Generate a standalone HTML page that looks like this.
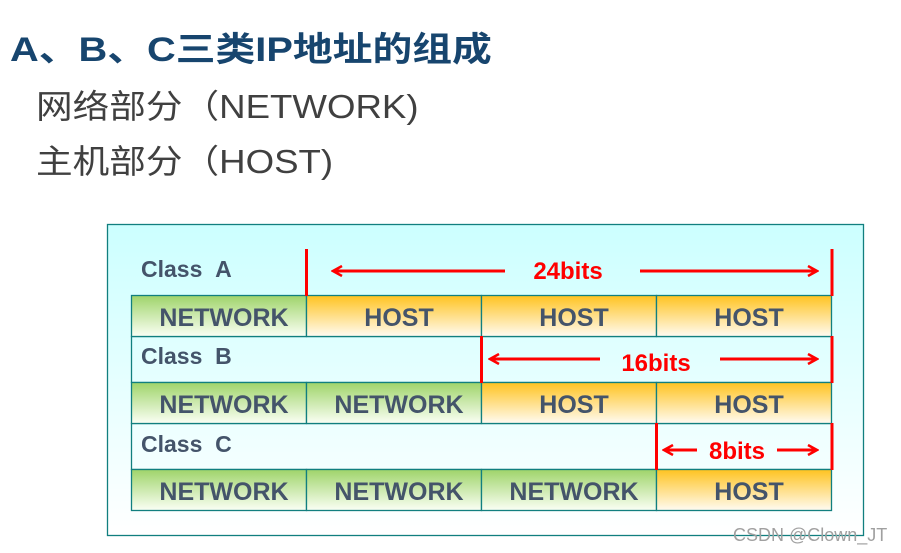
<!DOCTYPE html>
<html><head><meta charset="utf-8"><style>
html,body{margin:0;padding:0;background:#fff;width:901px;height:553px;overflow:hidden;position:relative}
.t{position:absolute;white-space:nowrap;font-family:"Liberation Sans","Noto Sans CJK SC",sans-serif;transform-origin:0 0}
</style></head><body>
<div class="t" style="left:10px;top:22px;font-size:34px;font-weight:bold;color:#17456e;transform:scaleX(1.17);">A、B、C三类IP地址的组成</div>
<div class="t" style="left:36px;top:80px;font-size:33px;color:#404040;transform:scaleX(1.11);">网络部分（NETWORK)</div>
<div class="t" style="left:36px;top:135px;font-size:33px;color:#404040;transform:scaleX(1.11);">主机部分（HOST)</div>
<svg width="901" height="553" style="position:absolute;left:0;top:0" xmlns="http://www.w3.org/2000/svg">
<defs>
<linearGradient id="bg" x1="0" y1="0" x2="0" y2="1"><stop offset="0" stop-color="#ccffff"/><stop offset="1" stop-color="#ffffff"/></linearGradient>
<linearGradient id="gn" x1="0" y1="0" x2="0" y2="1"><stop offset="0" stop-color="#9fd46a"/><stop offset="1" stop-color="#fbfff5"/></linearGradient>
<linearGradient id="or" x1="0" y1="0" x2="0" y2="1"><stop offset="0" stop-color="#ffc320"/><stop offset="1" stop-color="#fffbf2"/></linearGradient>
<marker id="ah" markerWidth="12" markerHeight="12" refX="10" refY="6" orient="auto" markerUnits="userSpaceOnUse"><path d="M1,1 L10,6 L1,11" fill="none" stroke="#ff0000" stroke-width="2.5"/></marker>
</defs>
<rect x="107.5" y="224.5" width="756" height="311" fill="url(#bg)" stroke="#117f7f" stroke-width="1.3"/>
<g stroke="#117f7f" stroke-width="1.3" fill="none">
<rect x="131.5" y="336.5" width="700" height="46"/>
<rect x="131.5" y="423.5" width="700" height="46"/>
</g>
<line x1="481.5" y1="336" x2="481.5" y2="382" stroke="#117f7f"/>
<line x1="656.5" y1="423" x2="656.5" y2="469" stroke="#117f7f"/>
<g font-family="Liberation Sans,sans-serif" font-weight="bold" font-size="23" fill="#44546a">
<text x="141" y="277">Class&#160;&#160;A</text>
<text x="141" y="364">Class&#160;&#160;B</text>
<text x="141" y="452">Class&#160;&#160;C</text>
</g>
<g stroke="#117f7f" stroke-width="1.3">
<rect x="131.5" y="295.5" width="175" height="41" fill="url(#gn)"/>
<rect x="306.5" y="295.5" width="175" height="41" fill="url(#or)"/>
<rect x="481.5" y="295.5" width="175" height="41" fill="url(#or)"/>
<rect x="656.5" y="295.5" width="175" height="41" fill="url(#or)"/>
<rect x="131.5" y="382.5" width="175" height="41" fill="url(#gn)"/>
<rect x="306.5" y="382.5" width="175" height="41" fill="url(#gn)"/>
<rect x="481.5" y="382.5" width="175" height="41" fill="url(#or)"/>
<rect x="656.5" y="382.5" width="175" height="41" fill="url(#or)"/>
<rect x="131.5" y="469.5" width="175" height="41" fill="url(#gn)"/>
<rect x="306.5" y="469.5" width="175" height="41" fill="url(#gn)"/>
<rect x="481.5" y="469.5" width="175" height="41" fill="url(#gn)"/>
<rect x="656.5" y="469.5" width="175" height="41" fill="url(#or)"/>
</g>
<g font-family="Liberation Sans,sans-serif" font-weight="bold" font-size="25" fill="#44546a" text-anchor="middle">
<text x="224" y="326">NETWORK</text><text x="399" y="326">HOST</text><text x="574" y="326">HOST</text><text x="749" y="326">HOST</text>
<text x="224" y="413">NETWORK</text><text x="399" y="413">NETWORK</text><text x="574" y="413">HOST</text><text x="749" y="413">HOST</text>
<text x="224" y="500">NETWORK</text><text x="399" y="500">NETWORK</text><text x="574" y="500">NETWORK</text><text x="749" y="500">HOST</text>
</g>
<g stroke="#ff0000" stroke-width="3" fill="none">
<line x1="306.5" y1="249" x2="306.5" y2="296"/><line x1="832" y1="249" x2="832" y2="296"/>
<line x1="505" y1="271" x2="333" y2="271" marker-end="url(#ah)"/>
<line x1="640" y1="271" x2="817" y2="271" marker-end="url(#ah)"/>
<line x1="481.5" y1="336" x2="481.5" y2="383"/><line x1="832" y1="336" x2="832" y2="383"/>
<line x1="600" y1="359" x2="490" y2="359" marker-end="url(#ah)"/>
<line x1="720" y1="359" x2="817" y2="359" marker-end="url(#ah)"/>
<line x1="656.5" y1="423" x2="656.5" y2="470"/><line x1="832" y1="423" x2="832" y2="470"/>
<line x1="697" y1="450" x2="664" y2="450" marker-end="url(#ah)"/>
<line x1="777" y1="450" x2="817" y2="450" marker-end="url(#ah)"/>
</g>
<g font-family="Liberation Sans,sans-serif" font-weight="bold" font-size="24" fill="#ff0000" text-anchor="middle">
<text x="568" y="279">24bits</text><text x="656" y="371">16bits</text><text x="737" y="459">8bits</text>
</g>
<text x="733" y="541" font-family="Liberation Sans,sans-serif" font-size="18" fill="#a0a0a0">CSDN @Clown_JT</text>
</svg>
</body></html>
